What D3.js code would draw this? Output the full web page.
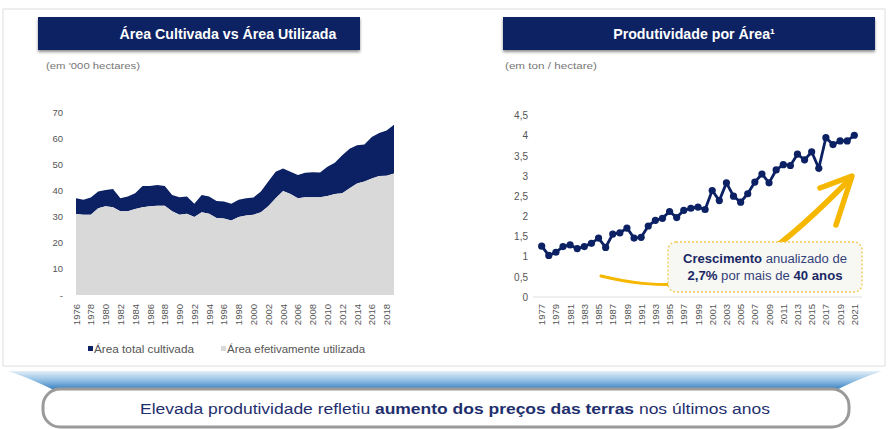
<!DOCTYPE html>
<html>
<head>
<meta charset="utf-8">
<style>
	body { margin: 0; background: white; }
	svg { font-family: "Liberation Sans", Arial, sans-serif; }
	.tick text { fill: #555; }
</style>
</head>
<body>
<svg width="890" height="429"></svg>

<script src="https://cdn.jsdelivr.net/npm/d3@7"></script>
<script>
const width = 890;
const height = 429;

// left chart: area ('000 hectares)
const yearsArea = d3.range(1976, 2020);
const totalArea = [37.1, 36.5, 37.4, 39.7, 40.3, 40.7, 37.1, 37.8, 39.0, 41.8,
	41.8, 42.2, 41.8, 38.4, 37.5, 37.8, 35.0, 38.4, 37.8, 36.1,
	35.9, 35.0, 36.5, 37.1, 37.4, 39.7, 43.5, 47.3, 48.5, 47.3,
	46.0, 46.9, 47.1, 47.0, 49.2, 50.7, 53.6, 56.1, 57.4, 57.7,
	60.6, 62.1, 63.1, 65.3];
const usedArea = [31.1, 30.8, 30.8, 33.3, 34.0, 33.7, 32.1, 32.1, 33.0, 33.7,
	34.0, 34.2, 34.2, 32.1, 30.8, 31.2, 29.9, 31.7, 31.2, 29.5,
	29.3, 28.6, 29.9, 30.5, 30.8, 31.7, 34.0, 37.1, 39.9, 38.7,
	37.1, 37.5, 37.5, 37.5, 38.0, 38.7, 39.0, 40.9, 42.8, 43.5,
	44.7, 45.6, 45.7, 46.6];
const areaTicksY = [0, 10, 20, 30, 40, 50, 60, 70];
const areaTicksX = d3.range(1976, 2019, 2);

// right chart: productivity (ton / hectare)
const yearsProd = d3.range(1977, 2022);
const productivity = [1.26, 1.03, 1.11, 1.25, 1.29, 1.20, 1.25, 1.33, 1.46, 1.23,
	1.56, 1.59, 1.71, 1.46, 1.48, 1.76, 1.90, 1.95, 2.12, 1.97,
	2.15, 2.20, 2.23, 2.17, 2.64, 2.39, 2.83, 2.50, 2.35, 2.56,
	2.85, 3.05, 2.83, 3.15, 3.28, 3.26, 3.54, 3.40, 3.60, 3.19,
	3.95, 3.78, 3.87, 3.87, 4.01];
const prodTicksY = [0, 0.5, 1, 1.5, 2, 2.5, 3, 3.5, 4, 4.5];
const prodTicksX = d3.range(1977, 2022, 2);

const navy = "#0b2163";
const lightGray = "#d9d9d9";
const gold = "#f5b700";

var svg = d3.select("svg");
var defs = svg.append("defs");

var shadow = defs.append("filter").attr("id", "shadow")
	.attr("x", "-5%").attr("y", "-20%").attr("width", "110%").attr("height", "160%");
shadow.append("feDropShadow")
	.attr("dx", 0).attr("dy", 2).attr("stdDeviation", 1.6)
	.attr("flood-color", "#000").attr("flood-opacity", 0.45);

var band = defs.append("linearGradient").attr("id", "band")
	.attr("x1", 0).attr("y1", 0).attr("x2", 0).attr("y2", 1);
band.append("stop").attr("offset", "0%").attr("stop-color", "#e4eef7");
band.append("stop").attr("offset", "45%").attr("stop-color", "#8dbde3");
band.append("stop").attr("offset", "100%").attr("stop-color", "#1565ad");

// frame
svg.append("rect")
	.attr("x", 3).attr("y", 9).attr("width", 882).attr("height", 357)
	.attr("fill", "none").attr("stroke", "#dedede");

// title bars
function titleBar(x, w, textX, label) {
	svg.append("rect")
		.attr("x", x).attr("y", 17).attr("width", w).attr("height", 33)
		.attr("fill", navy).attr("filter", "url(#shadow)");
	svg.append("text")
		.attr("x", textX).attr("y", 38.5)
		.attr("text-anchor", "middle")
		.attr("fill", "white").attr("font-weight", "bold").attr("font-size", 14.2)
		.text(label);
}
titleBar(38, 322, 228, "Área Cultivada vs Área Utilizada");
titleBar(503, 372, 694, "Produtividade por Área¹");

svg.append("text").attr("x", 46).attr("y", 69)
	.attr("font-size", 9.5).attr("fill", "#777")
	.attr("textLength", 94).attr("lengthAdjust", "spacingAndGlyphs")
	.text("(em '000 hectares)");
svg.append("text").attr("x", 505).attr("y", 69)
	.attr("font-size", 9.5).attr("fill", "#777")
	.attr("textLength", 92).attr("lengthAdjust", "spacingAndGlyphs")
	.text("(em ton / hectare)");

// ---- left chart ----
var xA = d3.scaleLinear().domain([1976, 2019]).range([76, 394]);
var yA = d3.scaleLinear().domain([0, 70]).range([295, 112.5]);

var areaData = yearsArea.map(function(y, i) {
	return { year: y, total: totalArea[i], used: usedArea[i] };
});

svg.append("path")
	.datum(areaData)
	.attr("fill", navy)
	.attr("d", d3.area()
		.x(function(d) { return xA(d.year); })
		.y0(function(d) { return yA(d.used); })
		.y1(function(d) { return yA(d.total); }));

svg.append("path")
	.datum(areaData)
	.attr("fill", lightGray)
	.attr("d", d3.area()
		.x(function(d) { return xA(d.year); })
		.y0(yA(0))
		.y1(function(d) { return yA(d.used); }));

var yAxisA = svg.append("g")
	.attr("transform", "translate(63,0)")
	.call(d3.axisLeft(yA).tickValues(areaTicksY).tickSize(0).tickPadding(0)
		.tickFormat(function(d) { return d === 0 ? "-" : d; }));
yAxisA.select(".domain").remove();
yAxisA.selectAll("text").attr("font-size", 9.5).attr("font-family", "Liberation Sans, Arial");

var xAxisA = svg.append("g")
	.attr("transform", "translate(0,304)")
	.call(d3.axisBottom(xA).tickValues(areaTicksX).tickSize(0).tickFormat(d3.format("d")));
xAxisA.select(".domain").remove();
xAxisA.selectAll("text")
	.attr("font-size", 9.5).attr("font-family", "Liberation Sans, Arial")
	.attr("fill", "#666")
	.attr("text-anchor", "end")
	.attr("y", 0).attr("dy", "0.32em")
	.attr("transform", "rotate(-90)");

// legend
var legendItems = [
	{ label: "Área total cultivada", color: navy, x: 88, w: 100 },
	{ label: "Área efetivamente utilizada", color: lightGray, x: 221, w: 138 }
];
var legend = svg.selectAll(".legend")
	.data(legendItems)
	.enter()
	.append("g")
		.attr("class", "legend")
		.attr("transform", function(d) { return "translate(" + d.x + ",349)"; });
legend.append("rect")
	.attr("x", 0).attr("y", -3).attr("width", 5).attr("height", 5)
	.attr("fill", function(d) { return d.color; });
legend.append("text")
	.attr("x", 6).attr("y", 3.5)
	.attr("font-size", 10).attr("fill", "#555")
	.attr("textLength", function(d) { return d.w; })
	.attr("lengthAdjust", "spacingAndGlyphs")
	.text(function(d) { return d.label; });

// ---- right chart ----
var xP = d3.scaleLinear().domain([1977, 2021]).range([541.7, 854.3]);
var yP = d3.scaleLinear().domain([0, 4.5]).range([297, 115.5]);

svg.append("line")
	.attr("x1", 533).attr("x2", 862)
	.attr("y1", yP(0)).attr("y2", yP(0))
	.attr("stroke", "#e0e0e0");

var yAxisP = svg.append("g")
	.attr("transform", "translate(528,0)")
	.call(d3.axisLeft(yP).tickValues(prodTicksY).tickSize(0).tickPadding(0)
		.tickFormat(function(d) { return String(d).replace(".", ","); }));
yAxisP.select(".domain").remove();
yAxisP.selectAll("text").attr("font-size", 10).attr("font-family", "Liberation Sans, Arial");

var xAxisP = svg.append("g")
	.attr("transform", "translate(0,304)")
	.call(d3.axisBottom(xP).tickValues(prodTicksX).tickSize(0).tickFormat(d3.format("d")));
xAxisP.select(".domain").remove();
xAxisP.selectAll("text")
	.attr("font-size", 9.5).attr("font-family", "Liberation Sans, Arial")
	.attr("fill", "#666")
	.attr("text-anchor", "end")
	.attr("y", 0).attr("dy", "0.32em")
	.attr("transform", "rotate(-90)");

var prodData = yearsProd.map(function(y, i) { return { year: y, value: productivity[i] }; });

// yellow arrow (drawn under the note box)
var arrow = svg.append("g").attr("fill", "none").attr("stroke", gold)
	.attr("stroke-linecap", "round").attr("stroke-linejoin", "round");
arrow.append("path")
	.attr("stroke-width", 3)
	.attr("d", "M601,276 C630,283 650,286 700,284");
arrow.append("path")
	.attr("stroke-width", 5.5)
	.attr("d", "M690,285 C740,282 790,240 851,178");
arrow.append("path")
	.attr("stroke-width", 5.5)
	.attr("d", "M820,188 L852,176 L836,225");

svg.append("path")
	.datum(prodData)
	.attr("fill", "none")
	.attr("stroke", navy)
	.attr("stroke-width", 2.8)
	.attr("d", d3.line()
		.x(function(d) { return xP(d.year); })
		.y(function(d) { return yP(d.value); }));

svg.selectAll(".dot")
	.data(prodData)
	.enter()
	.append("circle")
		.attr("class", "dot")
		.attr("cx", function(d) { return xP(d.year); })
		.attr("cy", function(d) { return yP(d.value); })
		.attr("r", 3.6)
		.attr("fill", navy);

// note box
svg.append("rect")
	.attr("x", 668).attr("y", 242).attr("width", 194).attr("height", 50).attr("rx", 8)
	.attr("fill", "#f7f7f3").attr("stroke", "#f2c94c")
	.attr("stroke-dasharray", "2,2").attr("stroke-width", 1.3);

var note1 = svg.append("text").attr("x", 765).attr("y", 263)
	.attr("text-anchor", "middle").attr("font-size", 12).attr("fill", "#34427a")
	.attr("textLength", 164).attr("lengthAdjust", "spacingAndGlyphs");
note1.append("tspan").attr("font-weight", "bold").attr("fill", "#1a2966").text("Crescimento");
note1.append("tspan").text(" anualizado  de");

var note2 = svg.append("text").attr("x", 765).attr("y", 280)
	.attr("text-anchor", "middle").attr("font-size", 12).attr("fill", "#34427a")
	.attr("textLength", 155).attr("lengthAdjust", "spacingAndGlyphs");
note2.append("tspan").attr("font-weight", "bold").attr("fill", "#1a2966").text("2,7%");
note2.append("tspan").text(" por mais de ");
note2.append("tspan").attr("font-weight", "bold").attr("fill", "#1a2966").text("40 anos");

// ---- bottom banner ----
svg.append("path")
	.attr("fill", "url(#band)")
	.attr("d", "M8,371 L882,371 C860,378 845,386 830,393 L60,393 C45,386 30,378 8,371 Z");

svg.append("rect")
	.attr("x", 43).attr("y", 389).attr("width", 806).attr("height", 38).attr("rx", 17)
	.attr("fill", "white").attr("stroke", "#9a9a9a").attr("stroke-width", 3);

var foot = svg.append("text").attr("x", 455).attr("y", 414)
	.attr("text-anchor", "middle").attr("font-size", 15.5).attr("fill", "#1f2f6e")
	.attr("textLength", 630).attr("lengthAdjust", "spacingAndGlyphs");
foot.append("tspan").text("Elevada produtividade refletiu ");
foot.append("tspan").attr("font-weight", "bold").text("aumento dos preços das terras");
foot.append("tspan").text(" nos últimos anos");
</script>
</body>
</html>
